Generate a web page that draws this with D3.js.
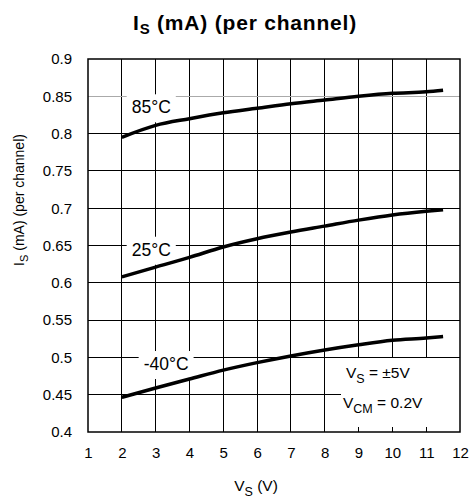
<!DOCTYPE html>
<html>
<head>
<meta charset="utf-8">
<script src="https://cdn.jsdelivr.net/npm/d3@7/dist/d3.min.js"></script>
<style>
  html, body { margin: 0; padding: 0; background: #fff; }
  svg { display: block; font-family: "Liberation Sans", Arial, sans-serif; }
</style>
</head>
<body>
<svg id="chart" width="470" height="502"></svg>
<script>
// Supply voltage (V) sample points
const vs = [2, 3, 4, 5, 6, 7, 8, 9, 10, 11, 11.5];
// Supply current per channel (mA) at each temperature
const is85 = [0.795, 0.811, 0.820, 0.828, 0.834, 0.840, 0.845, 0.850, 0.854, 0.856, 0.858];
const is25 = [0.608, 0.621, 0.634, 0.648, 0.659, 0.668, 0.676, 0.684, 0.691, 0.696, 0.698];
const isM40 = [0.4465, 0.459, 0.471, 0.483, 0.493, 0.502, 0.510, 0.517, 0.523, 0.526, 0.528];
const seriesNames = ["85°C", "25°C", "-40°C"];
// Label anchor (x in V, y in mA) for each temperature
const labelX = [2.87, 2.87, 3.31];
const labelY = [0.8272, 0.6363, 0.4831];
const xTicks = [1, 2, 3, 4, 5, 6, 7, 8, 9, 10, 11, 12];
const yTicks = [0.4, 0.45, 0.5, 0.55, 0.6, 0.65, 0.7, 0.75, 0.8, 0.85, 0.9];

const series = [is85, is25, isM40].map((vals, i) => ({
  name: seriesNames[i],
  points: vs.map((v, j) => [v, vals[j]]),
  lx: labelX[i], ly: labelY[i]
}));

const svg = d3.select("#chart");
const pLeft = 88, pRight = 460, pTop = 59, pBottom = 432;
const x = d3.scaleLinear().domain([1, 12]).range([pLeft, pRight]);
const y = d3.scaleLinear().domain([0.4, 0.9]).range([pBottom, pTop]);

// Title with subscript
const title = svg.append("text").attr("x", 245).attr("y", 30)
  .attr("text-anchor", "middle").attr("font-size", 21).attr("font-weight", "bold")
  .attr("letter-spacing", 0.8);
title.append("tspan").text("I");
title.append("tspan").attr("font-size", 15).attr("dy", 4).text("S");
title.append("tspan").attr("dy", -4).text(" (mA) (per channel)");

// Grid
const grid = svg.append("g");
grid.selectAll("line.v").data(xTicks.slice(1, -1)).join("line")
  .attr("x1", d => x(d)).attr("x2", d => x(d))
  .attr("y1", pTop).attr("y2", pBottom)
  .attr("stroke", "#000").attr("stroke-width", 1).attr("shape-rendering", "crispEdges");
grid.selectAll("line.h").data(yTicks.slice(1, -1)).join("line")
  .attr("x1", pLeft).attr("x2", pRight)
  .attr("y1", d => y(d)).attr("y2", d => y(d))
  .attr("stroke", d => d === 0.85 ? "#aaa" : "#000").attr("stroke-width", 1)
  .attr("shape-rendering", "crispEdges");

// Curve labels on white boxes
const labelFont = 17.5;
const labels = svg.append("g");
series.forEach(s => {
  const t = labels.append("text")
    .attr("x", x(s.lx)).attr("y", y(s.ly))
    .attr("text-anchor", "middle").attr("font-size", labelFont).text(s.name);
  const b = t.node().getBBox();
  labels.insert("rect", "text")
    .attr("x", b.x - 5).attr("y", b.y - 3)
    .attr("width", b.width + 10).attr("height", b.height + 8)
    .attr("fill", "#fff");
});

// Curves
const line = d3.line().x(d => x(d[0])).y(d => y(d[1])).curve(d3.curveMonotoneX);
svg.append("g").selectAll("path").data(series).join("path")
  .attr("d", d => line(d.points))
  .attr("fill", "none").attr("stroke", "#000").attr("stroke-width", 3.5)
  .attr("stroke-linecap", "butt");

// Conditions box
const cond = svg.append("g");
cond.append("rect").attr("x", 341).attr("y", 358).attr("width", pRight - 341).attr("height", 69)
  .attr("fill", "#fff");
const c1 = cond.append("text").attr("x", 346).attr("y", 378).attr("font-size", 15.5);
c1.append("tspan").text("V");
c1.append("tspan").attr("font-size", 12.5).attr("dy", 5).text("S");
c1.append("tspan").attr("dy", -5).text(" = ±5V");
const c2 = cond.append("text").attr("x", 343).attr("y", 408).attr("font-size", 15.5);
c2.append("tspan").text("V");
c2.append("tspan").attr("font-size", 12.5).attr("dy", 5).text("CM");
c2.append("tspan").attr("dy", -5).text(" = 0.2V");

// Frame
svg.append("rect").attr("x", pLeft).attr("y", pTop)
  .attr("width", pRight - pLeft).attr("height", pBottom - pTop)
  .attr("fill", "none").attr("stroke", "#000").attr("stroke-width", 1.5);

// Axes (labels only)
const xAxis = svg.append("g").attr("transform", `translate(0,${pBottom})`)
  .call(d3.axisBottom(x).tickValues(xTicks).tickSize(0).tickPadding(15).tickFormat(d3.format("d")));
const yAxis = svg.append("g").attr("transform", `translate(${pLeft},0)`)
  .call(d3.axisLeft(y).tickValues(yTicks).tickSize(0).tickPadding(16).tickFormat(d => String(+d.toFixed(2))));
[xAxis, yAxis].forEach(a => {
  a.select(".domain").remove();
  a.selectAll("text").attr("font-size", 15).attr("font-family", "Liberation Sans, Arial, sans-serif").attr("fill", "#000");
});

// Axis titles
const xt = svg.append("text").attr("x", 256).attr("y", 491)
  .attr("text-anchor", "middle").attr("font-size", 15.5);
xt.append("tspan").text("V");
xt.append("tspan").attr("font-size", 12.5).attr("dy", 5).text("S");
xt.append("tspan").attr("dy", -5).text(" (V)");

const yt = svg.append("text").attr("transform", "translate(24,200) rotate(-90)")
  .attr("text-anchor", "middle").attr("font-size", 14);
yt.append("tspan").text("I");
yt.append("tspan").attr("font-size", 11).attr("dy", 4).text("S");
yt.append("tspan").attr("dy", -4).text(" (mA) (per channel)");
</script>
</body>
</html>
